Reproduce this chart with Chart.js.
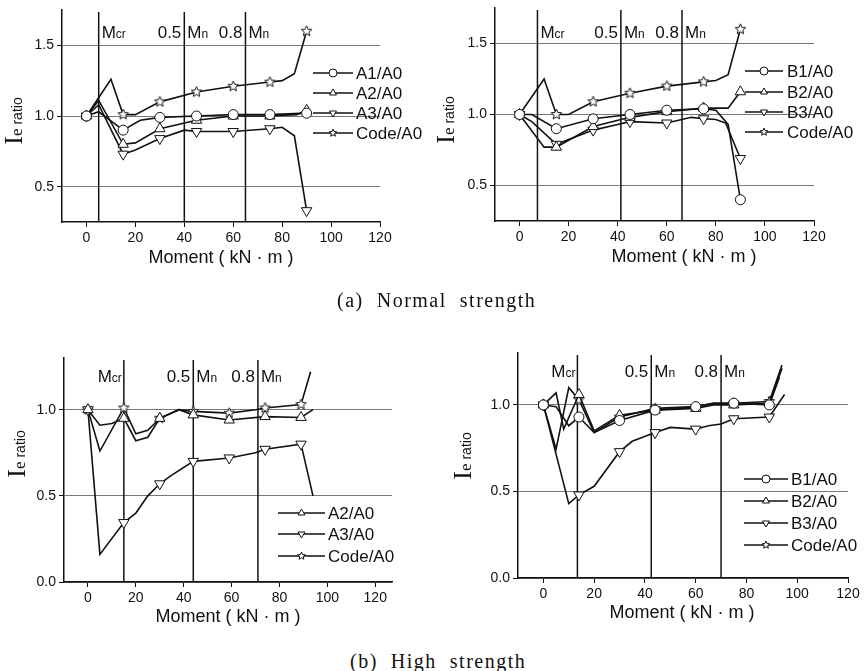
<!DOCTYPE html>
<html>
<head>
<meta charset="utf-8">
<script src="https://cdn.jsdelivr.net/npm/chart.js@4.4.0/dist/chart.umd.min.js"></script>
<style>
  body { margin: 0; background: #fff; width: 864px; height: 671px; position: relative; overflow: hidden; }
  canvas { position: absolute; }
  .cap { position: absolute; font-family: "Liberation Serif", serif; font-size: 20px; letter-spacing: 1.5px; white-space: pre; color: #111; }
</style>
</head>
<body>
<canvas id="chartA" width="432" height="290" style="left:0;top:0"></canvas>
<canvas id="chartB" width="432" height="290" style="left:432px;top:0"></canvas>
<canvas id="chartHA" width="432" height="300" style="left:0;top:330px"></canvas>
<canvas id="chartHB" width="432" height="300" style="left:432px;top:330px"></canvas>
<div class="cap" style="left:337px;top:289px">(a)  Normal  strength</div>
<div class="cap" style="left:350px;top:650px">(b)  High  strength</div>
<script>
// ---- data ----
const xTicks = [0, 20, 40, 60, 80, 100, 120];
const yTicksNormal = [0.5, 1.0, 1.5];
const yTicksHigh = [0.0, 0.5, 1.0];

// (a) normal strength, A specimens
const momentA1 = [0, 5, 15, 22, 30, 45, 60, 75, 90];
const ratioA1 = [1.0, 1.03, 0.90, 0.97, 0.99, 1.0, 1.01, 1.01, 1.02];
const momentA2 = [0, 5, 15, 20, 30, 45, 60, 75, 86, 90];
const ratioA2 = [1.0, 1.11, 0.80, 0.81, 0.91, 0.97, 1.0, 1.0, 1.01, 1.04];
const momentA3 = [0, 5, 15, 20, 30, 40, 45, 60, 75, 80, 85, 90];
const ratioA3 = [1.0, 1.08, 0.73, 0.76, 0.84, 0.90, 0.89, 0.89, 0.91, 0.92, 0.86, 0.33];
const momentCodeA = [0, 10, 15, 20, 30, 45, 60, 75, 80, 85, 90];
const ratioCodeA = [1.0, 1.26, 1.01, 1.01, 1.10, 1.17, 1.21, 1.24, 1.25, 1.30, 1.60];
const linesA = [5, 40, 65]; // Mcr, 0.5Mn, 0.8Mn

// (a) normal strength, B specimens
const momentB1 = [0, 5, 15, 30, 45, 60, 75, 80, 85, 90];
const ratioB1 = [1.0, 1.0, 0.90, 0.97, 1.0, 1.03, 1.04, 1.03, 0.93, 0.40];
const momentB2 = [0, 10, 15, 30, 45, 60, 75, 85, 90];
const ratioB2 = [1.0, 0.77, 0.77, 0.915, 0.98, 1.02, 1.045, 1.045, 1.16];
const momentB3 = [0, 5, 15, 30, 40, 45, 60, 70, 75, 80, 84, 90];
const ratioB3 = [1.0, 0.95, 0.79, 0.89, 0.93, 0.95, 0.94, 0.98, 0.97, 0.965, 0.94, 0.69];
const momentCodeB = [0, 10, 15, 20, 30, 45, 60, 75, 80, 85, 90];
const ratioCodeB = [1.0, 1.25, 1.0, 1.0, 1.09, 1.15, 1.20, 1.23, 1.24, 1.28, 1.60];
const linesB = [7.3, 41.3, 66.2];

// (b) high strength, A specimens
const momentHA2 = [0, 5, 10, 15, 20, 25, 30, 38, 44, 59, 74, 89, 94];
const ratioHA2 = [1.0, 0.91, 0.92, 0.95, 0.82, 0.84, 0.95, 1.0, 0.97, 0.94, 0.96, 0.955, 1.0];
const momentHA3 = [0, 5, 15, 20, 25, 30, 35, 44, 59, 70, 74, 89, 94];
const ratioHA3 = [1.0, 0.16, 0.345, 0.40, 0.50, 0.57, 0.62, 0.70, 0.72, 0.75, 0.77, 0.80, 0.50];
const momentHCodeA = [0, 5, 15, 20, 25, 30, 38, 44, 59, 70, 74, 89, 93];
const ratioHCodeA = [1.0, 0.76, 1.01, 0.86, 0.88, 0.95, 1.0, 0.99, 0.98, 1.0, 1.01, 1.03, 1.22];
const linesHA = [15, 44, 71];

// (b) high strength, B specimens
const momentHB1 = [0, 5, 10, 14, 20, 30, 44, 60, 67, 75, 89, 93];
const ratioHB1 = [1.0, 0.99, 0.88, 0.93, 0.84, 0.91, 0.97, 0.99, 1.01, 1.01, 1.0, 1.16];
const momentHB2 = [0, 5, 8, 14, 20, 30, 44, 60, 67, 75, 89, 94];
const ratioHB2 = [1.0, 1.07, 0.86, 1.06, 0.85, 0.94, 0.97, 0.98, 1.0, 1.0, 1.01, 1.21];
const momentHB3 = [0, 10, 14, 20, 30, 35, 44, 50, 60, 65, 70, 75, 89, 95];
const ratioHB3 = [1.0, 0.43, 0.48, 0.53, 0.73, 0.79, 0.84, 0.87, 0.86, 0.88, 0.89, 0.92, 0.93, 1.06];
const momentHCodeB = [0, 5, 10, 14, 20, 30, 44, 60, 67, 75, 89, 94];
const ratioHCodeB = [1.0, 0.745, 1.10, 1.03, 0.84, 0.93, 0.98, 0.99, 1.01, 1.01, 1.02, 1.23];
const linesHB = [13.4, 42.5, 70];

// moments where the test readings carry a marker
const markersNormal = [0, 15, 30, 45, 60, 75, 90];
const markersHA = [0, 15, 30, 44, 59, 74, 89];
const markersHB = [0, 14, 30, 44, 60, 75, 89];

// ---- drawing ----
const SANS = '"Liberation Sans", Arial, sans-serif';
Chart.defaults.font.family = SANS;
Chart.defaults.color = '#111';

function makeStar(r) {
  const c = document.createElement('canvas');
  c.width = c.height = Math.ceil(r * 2 + 4);
  const g = c.getContext('2d');
  starPath(g, c.width / 2, c.height / 2, r);
  g.fillStyle = '#fff';
  g.fill();
  g.lineWidth = 1;
  g.strokeStyle = '#111';
  g.stroke();
  return c;
}

function starPath(g, cx, cy, r) {
  g.beginPath();
  for (let i = 0; i < 10; i++) {
    const rr = i % 2 ? r * 0.45 : r;
    const a = -Math.PI / 2 + i * Math.PI / 5;
    g.lineTo(cx + rr * Math.cos(a), cy + rr * Math.sin(a));
  }
  g.closePath();
}

// marker for the hand drawn legend
function drawMarker(g, type, x, y, r) {
  g.beginPath();
  if (type === 'circle') {
    g.arc(x, y, r, 0, Math.PI * 2);
  } else if (type === 'star') {
    starPath(g, x, y, r);
  } else {
    const s = type === 'down' ? -1 : 1;
    g.moveTo(x, y - s * r);
    g.lineTo(x + r * 0.87, y + s * r * 0.5);
    g.lineTo(x - r * 0.87, y + s * r * 0.5);
    g.closePath();
  }
  g.fillStyle = '#fff';
  g.fill();
  g.lineWidth = 1;
  g.strokeStyle = '#111';
  g.stroke();
}

// text made of pieces with different fonts (subscripts)
function pieces(g, parts, x, y) {
  let cx = x;
  parts.forEach(p => {
    g.font = p[1];
    g.fillText(p[0], cx, y + p[2]);
    cx += g.measureText(p[0]).width;
  });
  return cx;
}
function piecesWidth(g, parts) {
  let w = 0;
  parts.forEach(p => { g.font = p[1]; w += g.measureText(p[0]).width; });
  return w;
}

const starBig = makeStar(5.5);

const decorPlugin = {
  id: 'decor',
  beforeDatasetsDraw(chart) {
    const p = chart.options.plugins.decor;
    const g = chart.ctx;
    const area = chart.chartArea;
    const xs = chart.scales.x;
    const px = p.lines.map(v => xs.getPixelForValue(v));
    g.save();
    // Mcr / 0.5Mn / 0.8Mn lines
    g.strokeStyle = '#111';
    g.lineWidth = 1.5;
    px.forEach(x => {
      g.beginPath();
      g.moveTo(x, area.top + 2);
      g.lineTo(x, area.bottom);
      g.stroke();
    });
    // their labels
    g.fillStyle = '#111';
    g.textBaseline = 'middle';
    const big = '17px ' + SANS, small = '12px ' + SANS;
    const mcr = [['M', big, 0], ['cr', small, 2]];
    const mn = [['M', big, 0], ['n', small, 2]];
    const y = p.labelY;
    if (p.mcrSide === 'right') pieces(g, mcr, px[0] + 3, y);
    else pieces(g, mcr, px[0] - 2 - piecesWidth(g, mcr), y);
    g.font = big;
    g.textAlign = 'right';
    g.fillText('0.5', px[1] - 3, y);
    g.fillText('0.8', px[2] - 3, y);
    g.textAlign = 'left';
    pieces(g, mn, px[1] + 3, y);
    pieces(g, mn, px[2] + 3, y);
    g.restore();
  },
  afterDraw(chart) {
    const p = chart.options.plugins.decor;
    const g = chart.ctx;
    g.save();
    g.fillStyle = '#111';
    g.textBaseline = 'middle';
    // x title
    g.font = '18px ' + SANS;
    g.textAlign = 'center';
    g.fillText('Moment ( kN \u00b7 m )', p.xTitle[0], p.xTitle[1]);
    // y title, rotated
    g.textAlign = 'left';
    const yt = [['I', '26px "Liberation Serif", serif', 0], ['e', '17px "Liberation Serif", serif', 3], [' ratio', '14px ' + SANS, 3]];
    g.translate(p.yTitle[0], p.yTitle[1]);
    g.rotate(-Math.PI / 2);
    pieces(g, yt, -piecesWidth(g, yt) / 2, 0);
    g.setTransform(1, 0, 0, 1, 0, 0);
    // legend
    const L = p.legend;
    chart.data.datasets.forEach((ds, i) => {
      const ry = L.rows[i];
      g.strokeStyle = '#111';
      g.lineWidth = 1.5;
      g.beginPath();
      g.moveTo(L.x0, ry);
      g.lineTo(L.x1, ry);
      g.stroke();
      drawMarker(g, ds.marker, (L.x0 + L.x1) / 2, ry, 4);
      g.fillStyle = '#111';
      g.font = '17px ' + SANS;
      g.fillText(ds.label, L.tx, ry + 1);
    });
    g.restore();
  }
};

function series(label, xs, ys, marker) {
  return { label, xs, ys, marker };
}

function buildPanel(id, cfg) {
  const canvas = document.getElementById(id);
  const W = canvas.width, H = canvas.height;
  const datasets = cfg.series.map(s => ({
    label: s.label,
    marker: s.marker,
    data: s.xs.map((x, i) => ({ x: x, y: s.ys[i] })),
    borderColor: '#111',
    borderWidth: 1.6,
    tension: 0,
    pointStyle: s.marker === 'star' ? starBig : (s.marker === 'circle' ? 'circle' : 'triangle'),
    pointRotation: s.marker === 'down' ? 180 : 0,
    pointRadius: ctx => cfg.markerX.includes(ctx.raw.x) ? (s.marker === 'circle' ? 5 : 6) : 0,
    pointBackgroundColor: '#fff',
    pointBorderColor: '#111',
    pointBorderWidth: 1
  }));

  return new Chart(canvas.getContext('2d'), {
    type: 'line',
    data: { datasets: datasets },
    plugins: [decorPlugin],
    options: {
      responsive: false,
      animation: false,
      layout: { padding: { left: 0, top: cfg.area.top, right: W - cfg.area.right, bottom: 0 } },
      plugins: {
        legend: { display: false },
        tooltip: { enabled: false },
        decor: cfg.decor
      },
      scales: {
        x: {
          type: 'linear',
          min: cfg.xMin,
          max: cfg.xMax,
          afterBuildTicks: s => { s.ticks = xTicks.map(v => ({ value: v })); },
          afterFit: s => { s.height = H - cfg.area.bottom; s.paddingLeft = 0; s.paddingRight = 0; },
          grid: { drawOnChartArea: false, tickLength: 5, color: '#111' },
          border: { color: '#111', width: 1.5 },
          ticks: { font: { size: 14 }, padding: 3, maxRotation: 0, callback: v => v }
        },
        y: {
          min: cfg.yMin,
          max: cfg.yMax,
          afterBuildTicks: s => { s.ticks = cfg.yTicks.map(v => ({ value: v })); },
          afterFit: s => { s.width = cfg.area.left; s.paddingTop = 0; s.paddingBottom = 0; },
          grid: { color: '#777', lineWidth: 1, tickLength: 5, tickColor: '#111' },
          border: { color: '#111', width: 1.5 },
          ticks: { font: { size: 14 }, padding: 3, callback: v => v.toFixed(1) }
        }
      }
    }
  });
}

buildPanel('chartA', {
  area: { left: 62, top: 10, right: 380, bottom: 222 },
  xMin: -10, xMax: 120, yMin: 0.25, yMax: 1.75, yTicks: yTicksNormal,
  markerX: markersNormal,
  series: [
    series('A1/A0', momentA1, ratioA1, 'circle'),
    series('A2/A0', momentA2, ratioA2, 'up'),
    series('A3/A0', momentA3, ratioA3, 'down'),
    series('Code/A0', momentCodeA, ratioCodeA, 'star')
  ],
  decor: {
    lines: linesA, mcrSide: 'right', labelY: 33,
    xTitle: [221, 258], yTitle: [15, 121],
    legend: { x0: 313, x1: 353, tx: 356, rows: [73, 93, 113, 133] }
  }
});

buildPanel('chartB', {
  area: { left: 63, top: 8, right: 382, bottom: 221 },
  xMin: -10, xMax: 120, yMin: 0.25, yMax: 1.75, yTicks: yTicksNormal,
  markerX: markersNormal,
  series: [
    series('B1/A0', momentB1, ratioB1, 'circle'),
    series('B2/A0', momentB2, ratioB2, 'up'),
    series('B3/A0', momentB3, ratioB3, 'down'),
    series('Code/A0', momentCodeB, ratioCodeB, 'star')
  ],
  decor: {
    lines: linesB, mcrSide: 'right', labelY: 33,
    xTitle: [252, 257], yTitle: [15, 120],
    legend: { x0: 313, x1: 351, tx: 355, rows: [71, 92, 112, 132] }
  }
});

buildPanel('chartHA', {
  area: { left: 64, top: 28, right: 392, bottom: 252 },
  xMin: -10, xMax: 127, yMin: 0, yMax: 1.3, yTicks: yTicksHigh,
  markerX: markersHA,
  series: [
    series('A2/A0', momentHA2, ratioHA2, 'up'),
    series('A3/A0', momentHA3, ratioHA3, 'down'),
    series('Code/A0', momentHCodeA, ratioHCodeA, 'star')
  ],
  decor: {
    lines: linesHA, mcrSide: 'left', labelY: 47,
    xTitle: [228, 287], yTitle: [18, 124],
    legend: { x0: 278, x1: 325, tx: 328, rows: [183, 204, 226] }
  }
});

buildPanel('chartHB', {
  area: { left: 86, top: 23, right: 416, bottom: 248 },
  xMin: -10, xMax: 120, yMin: 0, yMax: 1.3, yTicks: yTicksHigh,
  markerX: markersHB,
  series: [
    series('B1/A0', momentHB1, ratioHB1, 'circle'),
    series('B2/A0', momentHB2, ratioHB2, 'up'),
    series('B3/A0', momentHB3, ratioHB3, 'down'),
    series('Code/A0', momentHCodeB, ratioHCodeB, 'star')
  ],
  decor: {
    lines: linesHB, mcrSide: 'left', labelY: 42,
    xTitle: [250, 283], yTitle: [32, 126],
    legend: { x0: 312, x1: 356, tx: 359, rows: [149, 171, 193, 215] }
  }
});
</script>
</body>
</html>
